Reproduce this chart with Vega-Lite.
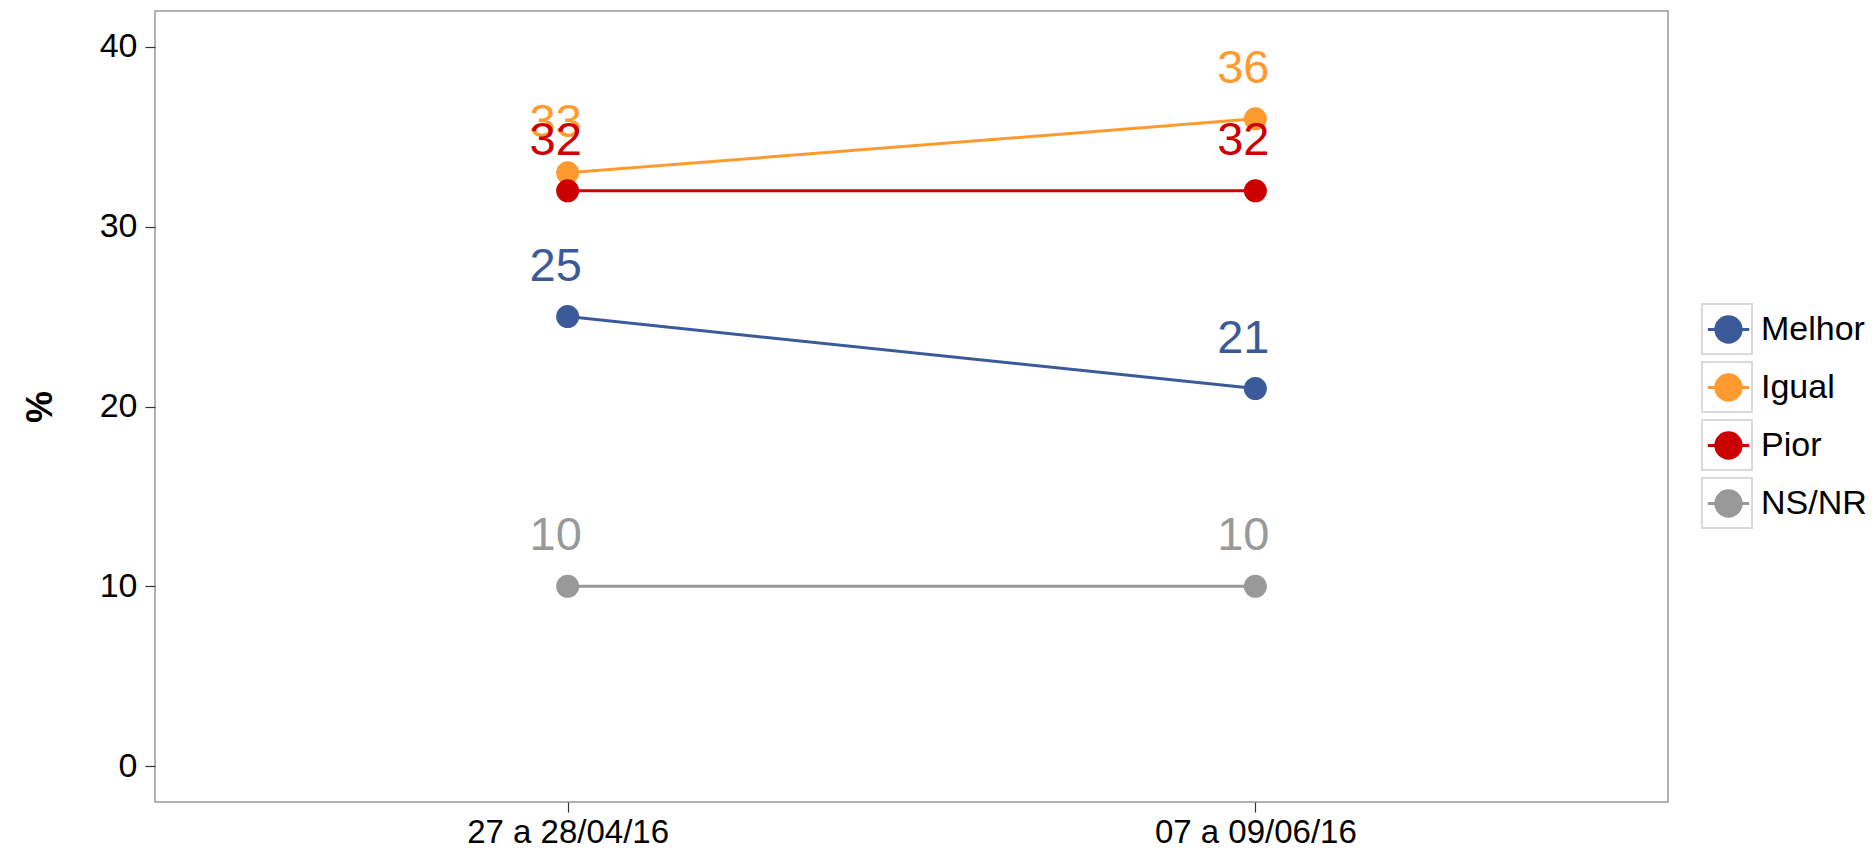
{
  "$schema": "https://vega.github.io/schema/vega-lite/v6.json",
  "width": 1513,
  "height": 791,
  "autosize": {"type": "none"},
  "padding": {"left": 155, "top": 11, "right": 206, "bottom": 50},
  "background": "white",
  "config": {
    "font": "Liberation Sans",
    "view": {"stroke": "#999999", "strokeWidth": 1.5},
    "axis": {"grid": false, "domain": false, "tickColor": "#333333", "tickSize": 10, "tickWidth": 1.2, "labelColor": "#000000", "labelFontSize": 34, "labelFont": "Liberation Sans", "labelLimit": 0}
  },
  "data": {
    "values": [
      {"periodo": "27 a 28/04/16", "cat": "Melhor", "valor": 25},
      {"periodo": "07 a 09/06/16", "cat": "Melhor", "valor": 21},
      {"periodo": "27 a 28/04/16", "cat": "Igual", "valor": 33},
      {"periodo": "07 a 09/06/16", "cat": "Igual", "valor": 36},
      {"periodo": "27 a 28/04/16", "cat": "Pior", "valor": 32},
      {"periodo": "07 a 09/06/16", "cat": "Pior", "valor": 32},
      {"periodo": "27 a 28/04/16", "cat": "NS/NR", "valor": 10},
      {"periodo": "07 a 09/06/16", "cat": "NS/NR", "valor": 10}
    ]
  },
  "encoding": {
    "x": {
      "field": "periodo",
      "type": "ordinal",
      "sort": ["27 a 28/04/16", "07 a 09/06/16"],
      "scale": {"type": "point", "padding": 0.6, "domain": ["27 a 28/04/16", "07 a 09/06/16"]},
      "axis": {"title": null, "labelAngle": 0, "labelPadding": 4, "labelFontSize": 33, "labelLimit": 0}
    },
    "y": {
      "field": "valor",
      "type": "quantitative",
      "scale": {"domain": [-2, 42], "nice": false, "zero": false},
      "axis": {"title": "%", "values": [0, 10, 20, 30, 40], "labelPadding": 8, "titleFontSize": 36, "titleFontWeight": "bold", "titleColor": "#000000", "titlePadding": 40}
    }
  },
  "layer": [
    {
      "mark": {"type": "point", "filled": false, "color": "#d9d9d9", "opacity": 0},
      "encoding": {
        "shape": {
          "field": "cat",
          "type": "nominal",
          "scale": {"range": ["square", "square", "square", "square"]},
          "legend": {
            "title": null,
            "orient": "none",
            "legendX": 1546,
            "legendY": 292,
            "symbolSize": 2500,
            "symbolStrokeWidth": 2,
            "symbolStrokeColor": "#d9d9d9",
            "symbolFillColor": "transparent",
            "symbolOpacity": 1,
            "labelExpr": "''",
            "labelFontSize": 20,
            "labelOffset": 0,
            "rowPadding": 0
          }
        }
      }
    },
    {
      "mark": {"type": "line", "strokeWidth": 3},
      "encoding": {
        "color": {
          "field": "cat",
          "type": "nominal",
          "scale": {"domain": ["Melhor", "Igual", "Pior", "NS/NR"], "range": ["#3B5A9A", "#FF9A2E", "#CC0000", "#999999"]},
          "legend": {
            "title": null,
            "orient": "none",
            "legendX": 1549,
            "legendY": 294,
            "symbolType": "M -0.9 0 L 0.9 0 M 0.55 0 A 0.55 0.55 0 1 1 -0.55 0 A 0.55 0.55 0 1 1 0.55 0",
            "symbolSize": 2116,
            "symbolStrokeWidth": 3,
            "labelFontSize": 34,
            "labelColor": "#000000",
            "labelOffset": 8,
            "rowPadding": 14
          }
        }
      }
    },
    {
      "mark": {"type": "point", "filled": true, "size": 530, "opacity": 1},
      "encoding": {"color": {"field": "cat", "type": "nominal"}}
    },
    {
      "mark": {"type": "text", "fontSize": 47, "dy": -36, "dx": -12, "baseline": "alphabetic", "align": "center"},
      "encoding": {"color": {"field": "cat", "type": "nominal"}, "text": {"field": "valor", "type": "quantitative"}}
    }
  ]
}
